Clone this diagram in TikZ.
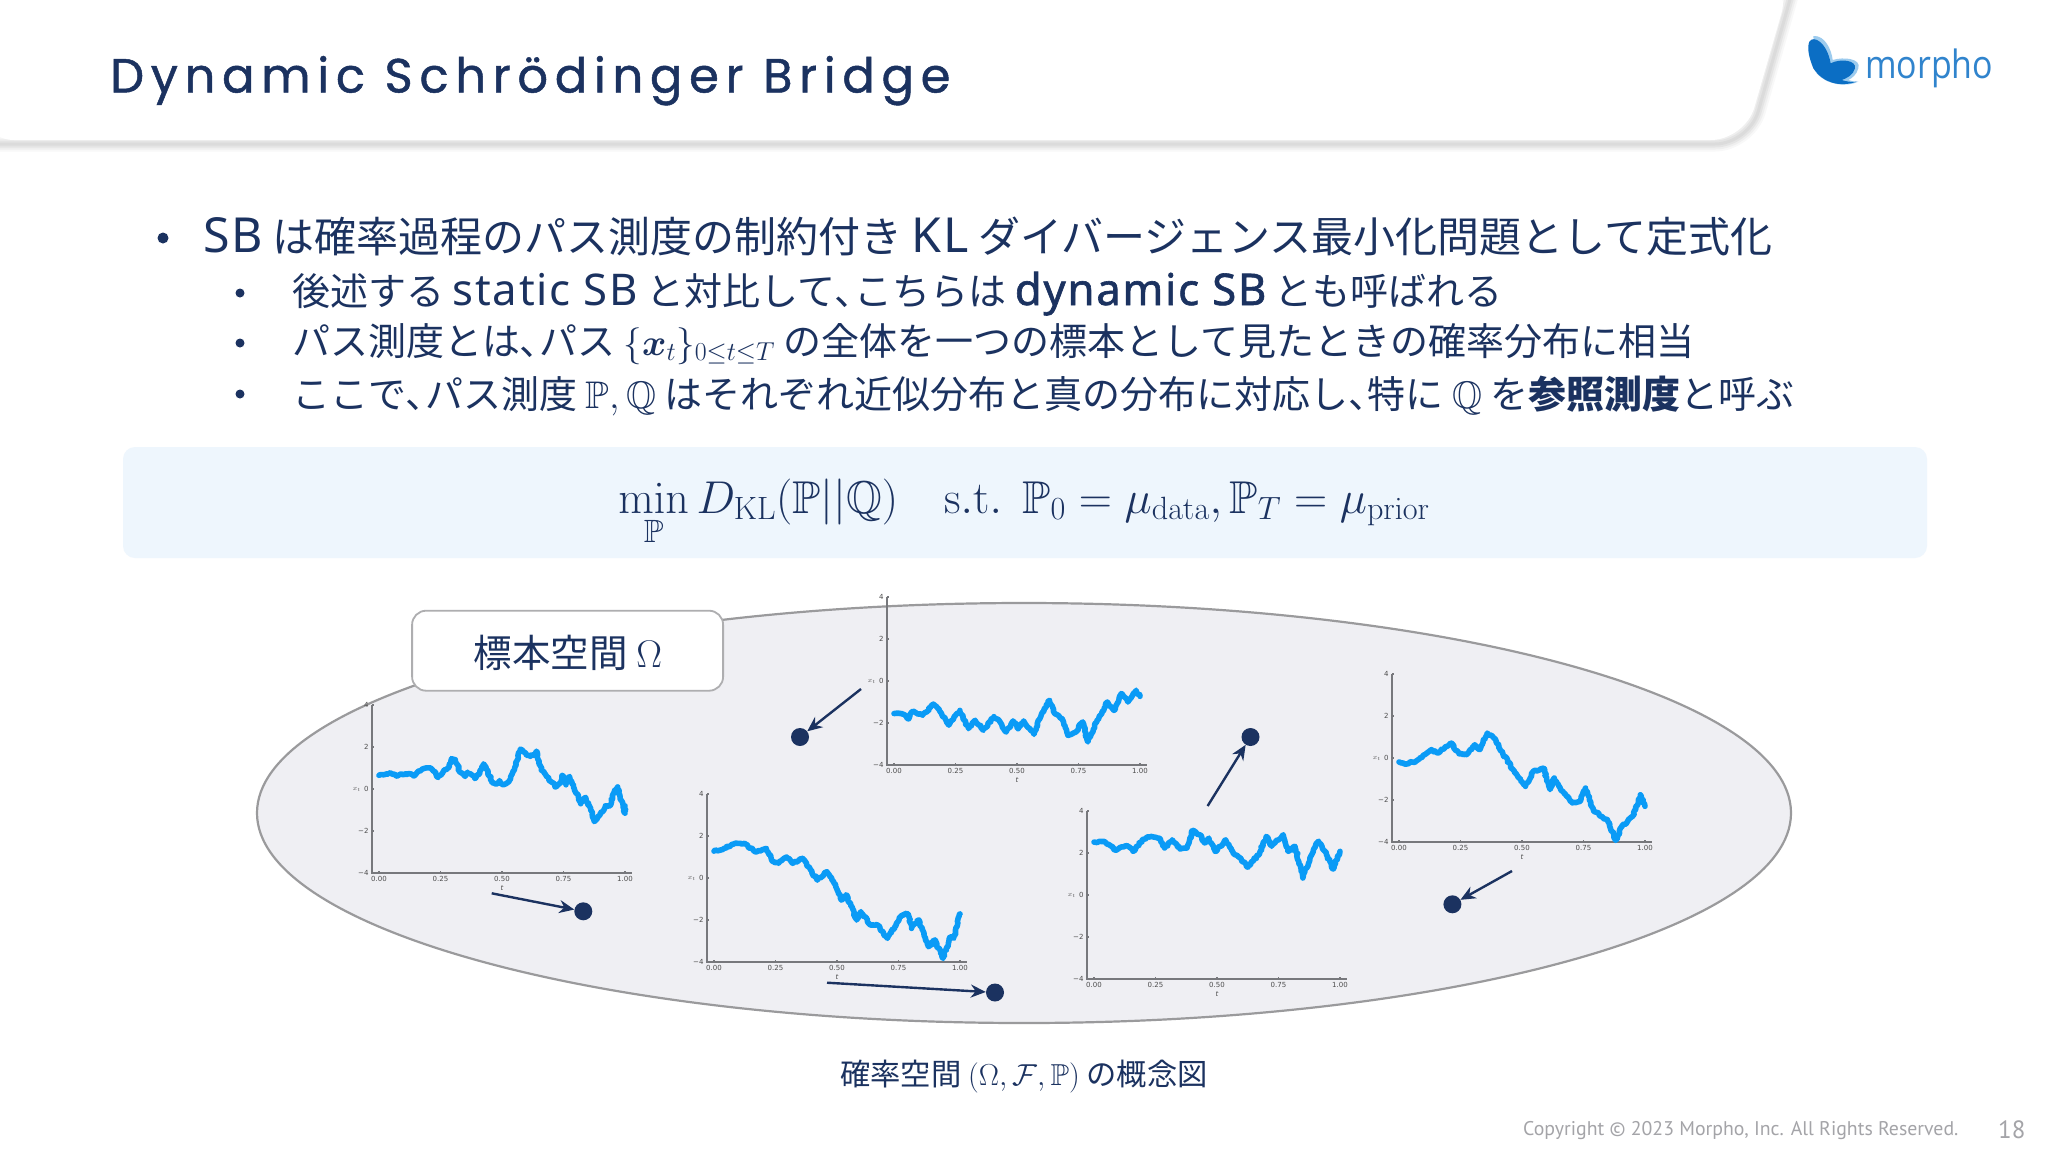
\documentclass[tikz,border=0pt]{standalone}
\usepackage{fix-cm}
\usepackage{amsmath,amssymb}
\usepackage[no-math]{fontspec}
\setmainfont{Noto Sans CJK JP}
\newfontfamily\paltfont[RawFeature=+palt]{Noto Sans CJK JP}
\newfontfamily\latinfont[Scale=1.15,LetterSpace=4]{Noto Sans}
\newfontfamily\latinbold[Scale=1.15,LetterSpace=4,FakeBold=1.4]{Noto Sans}
\newfontfamily\titlefont[LetterSpace=14,FakeBold=1]{Poppins}
\newfontfamily\logofont[FakeStretch=0.87]{Open Sans}
\newfontfamily\footfont{PT Sans}
\newfontfamily\tickfont{DejaVu Sans}
\newcommand{\tenmark}{{\paltfont 、}}
\newcommand{\lat}[1]{{\latinfont #1}}
\newcommand{\latb}[1]{{\latinbold #1}}
\usetikzlibrary{arrows.meta,shapes.geometric,positioning,calc,decorations.pathmorphing}
\definecolor{navy}{HTML}{1B3260}
\definecolor{pathblue}{HTML}{0A9BF6}
\definecolor{panelblue}{HTML}{EEF6FD}
\definecolor{spacegray}{HTML}{EFEFF3}
\definecolor{edgegray}{HTML}{9A9A9C}
\definecolor{axisgray}{HTML}{77787C}
\definecolor{footgray}{HTML}{A4A4A8}
\definecolor{logoblue}{HTML}{0B6EC4}
\definecolor{logolight}{HTML}{9CCBEE}
\pgfmathsetseed{18}

% one sample path with its axes: name, origin x, origin y, points
\newcommand{\pathplot}[4]{
	\begin{scope}[shift={(#2,#3)},x=246pt,y=21pt]
		\draw[axisline] (-0.0285,4) -- (-0.0285,-4) -- (1.0285,-4);
		\foreach \v/\lab [count=\i] in {-4/−4,-2/−2,0/0,2/2,4/4}{
			\draw[axisline] (-0.0285,\v) -- (-0.021,\v);
			\node[ticklabel,anchor=east] (#1y\i) at (-0.042,\v) {\lab};
		}
		\foreach \t/\lab [count=\i] in {0/0.00,0.25/0.25,0.5/0.50,0.75/0.75,1/1.00}{
			\draw[axisline] (\t,-4) -- (\t,-3.9);
			\node[ticklabel] (#1x\i) at (\t,-4.3) {\lab};
		}
		\node[ticklabel,font=\tickfont\fontsize{7}{8}\selectfont\itshape] (#1t) at (0.5,-4.72) {t};
		\node[ticklabel] (#1v) at (-0.09,0) {$x_t$};
		\draw[samplepath] plot coordinates {#4};
	\end{scope}
}

\begin{document}
\begin{tikzpicture}[
	x=1pt,y=-1pt,
	bodytext/.style={anchor=base west,inner sep=0,text=navy},
	bigline/.style={bodytext,font=\fontsize{42}{48}\selectfont},
	subline/.style={bodytext,font=\fontsize{38}{42}\selectfont},
	dotitem/.style={circle,fill=navy,inner sep=0,minimum size=#1},
	panel/.style={rectangle,rounded corners=12pt,fill=panelblue,inner sep=0,minimum width=1804pt,minimum height=111pt},
	space/.style={ellipse,draw=edgegray,line width=2.2pt,fill=spacegray,inner sep=0,minimum width=1534pt,minimum height=420pt},
	labelbox/.style={rectangle,rounded corners=14pt,draw=edgegray!80,line width=1.8pt,fill=white,inner sep=0,minimum width=311pt,minimum height=80pt},
	axisline/.style={axisgray,line width=1.1pt},
	ticklabel/.style={inner sep=0,text=black!70,font=\tickfont\fontsize{7}{8}\selectfont},
	samplepath/.style={pathblue,line width=5.6pt,line join=round,line cap=round,decorate,decoration={random steps,segment length=2pt,amplitude=1pt}},
	sampledot/.style={circle,fill=navy,inner sep=0,minimum size=18pt},
	samplearrow/.style={-{Stealth[length=15pt,width=13pt]},navy,line width=2.4pt},
	footnote/.style={anchor=base west,inner sep=0,text=footgray}
	]
	\useasboundingbox (0,0) rectangle (2048,1152);
	\fill[white] (0,0) rectangle (2048,1152);

	% header band
	\foreach \w/\o in {15/.06,11/.08,7/.10,3/.10}
		\draw[black!45,opacity=\o,line width=\w pt,rounded corners=34pt] (-20,144) -- (1749,144) -- (1791,-4);
	\fill[white,rounded corners=34pt] (-20,-20) -- (-20,140) -- (1745,140) -- (1791,-20) -- cycle;
	\node[anchor=base west,inner sep=0,text=navy,font=\titlefont\fontsize{48}{54}\selectfont] (title) at (110,92.5) {Dynamic Schrödinger Bridge};

	% logo
	\begin{scope}[shift={(1600,0)},x=.3333pt,y=-.3333pt]
		\fill[logolight] (640,108) .. controls (675,105) and (695,150) .. (698,180) .. controls (730,170) and (785,175) .. (775,205) .. controls (770,225) and (755,235) .. (745,240) .. controls (755,245) and (765,245) .. (775,245) .. controls (740,262) and (680,255) .. (650,220) -- cycle;
		\fill[logoblue] (628,125) .. controls (640,105) and (680,125) .. (692,190) .. controls (720,175) and (770,180) .. (765,205) .. controls (760,225) and (740,235) .. (725,240) .. controls (740,245) and (755,247) .. (770,245) .. controls (720,262) and (670,250) .. (640,205) .. controls (628,175) and (620,145) .. (628,125) -- cycle;
	\end{scope}
	\node[anchor=base west,inner sep=0,text=logoblue!85!white,font=\logofont\fontsize{39}{44}\selectfont] (logotext) at (1865,78) {morpho};

	% bullets
	\node[dotitem=11pt] (b1) at (163,238) {};
	\node[dotitem=9pt] (b2) at (240,293) {};
	\node[dotitem=9pt] (b3) at (240,343) {};
	\node[dotitem=9pt] (b4) at (240,394) {};
	\node[bigline] (line1) at (203,252) {\lat{SB} は確率過程のパス測度の制約付き \lat{KL} ダイバージェンス最小化問題として定式化};
	\node[subline] (line2) at (292,305) {後述する \lat{static SB} と対比して\tenmark こちらは \latb{dynamic SB} とも呼ばれる};
	\node[subline] (line3) at (292,355) {パス測度とは\tenmark パス {\fontsize{37}{42}\selectfont$\{\boldsymbol{x}_t\}_{0\le t\le T}$} の全体を一つの標本として見たときの確率分布に相当};
	\node[subline] (line4) at (292,408) {ここで\tenmark パス測度 {\fontsize{38.5}{42}\selectfont$\mathbb{P},\mathbb{Q}$} はそれぞれ近似分布と真の分布に対応し\tenmark 特に {\fontsize{38.5}{42}\selectfont$\mathbb{Q}$} を\textbf{参照測度}と呼ぶ};

	% formula
	\node[panel] (formula) at (1025,502.5) {};
	\node[anchor=base,inner sep=0,text=navy,font=\fontsize{46}{50}\selectfont] (formulatext) at (1024,513) {$\displaystyle\min_{\mathbb{P}} D_{\mathrm{KL}}(\mathbb{P}||\mathbb{Q})\quad\mathrm{s.t.}\ \ \mathbb{P}_0=\mu_{\mathrm{data}},\mathbb{P}_T=\mu_{\mathrm{prior}}$};

	% sample space
	\node[space] (omega) at (1024,813) {};
	\node[labelbox] (omegalabel) at (567.6,650.7) {};
	\node[inner sep=0,text=navy,font=\fontsize{38.5}{44}\selectfont] (omegatext) at (568,653) {標本空間 $\Omega$};

	\pathplot{pa}{379}{789}{(0,0.65)(0.02,0.68)(0.05,0.75)(0.07,0.62)(0.09,0.72)(0.13,0.72)(0.14,0.62)(0.16,0.85)(0.19,1.0)(0.21,1.0)(0.23,0.8)(0.24,0.55)(0.26,0.8)(0.28,1.0)(0.295,1.45)(0.31,1.4)(0.33,0.8)(0.35,0.6)(0.36,0.8)(0.38,0.65)(0.39,0.5)(0.41,0.8)(0.425,1.2)(0.44,0.9)(0.46,0.3)(0.48,0.25)(0.49,0.4)(0.505,0.2)(0.53,0.4)(0.55,0.9)(0.575,1.9)(0.60,1.6)(0.63,1.6)(0.64,1.8)(0.66,0.9)(0.69,0.5)(0.72,0.1)(0.74,0.3)(0.745,0.65)(0.76,0.2)(0.775,0.6)(0.79,0.1)(0.81,-0.3)(0.82,-0.7)(0.84,-0.4)(0.855,-0.8)(0.875,-1.55)(0.90,-1.2)(0.92,-0.8)(0.94,-0.8)(0.955,-0.1)(0.97,0.1)(0.98,-0.4)(1,-1.15)(1,-0.8)}
	\pathplot{pb}{894}{681}{(0,-1.55)(0.03,-1.55)(0.06,-1.8)(0.077,-1.43)(0.116,-1.63)(0.16,-1.1)(0.19,-1.5)(0.223,-2.1)(0.268,-1.4)(0.303,-2.27)(0.33,-1.87)(0.363,-2.35)(0.406,-1.7)(0.431,-1.95)(0.456,-2.43)(0.484,-1.9)(0.505,-2.27)(0.527,-1.9)(0.569,-2.54)(0.60,-1.56)(0.633,-0.92)(0.654,-1.56)(0.686,-1.87)(0.707,-2.59)(0.739,-2.43)(0.767,-1.95)(0.788,-2.9)(0.824,-1.95)(0.867,-1)(0.894,-1.4)(0.924,-0.6)(0.951,-1)(0.984,-0.44)(1,-0.73)}
	\pathplot{pc}{714}{878}{(0,1.28)(0.026,1.33)(0.085,1.65)(0.124,1.65)(0.167,1.25)(0.213,1.41)(0.242,0.78)(0.262,0.7)(0.295,1.0)(0.32,0.7)(0.36,0.94)(0.42,-0.1)(0.459,0.3)(0.488,-0.25)(0.518,-1.05)(0.537,-0.8)(0.58,-2)(0.597,-1.6)(0.636,-2.24)(0.665,-2.24)(0.705,-2.87)(0.764,-1.76)(0.789,-1.71)(0.803,-2.4)(0.833,-2)(0.872,-3.27)(0.898,-2.95)(0.931,-3.83)(0.96,-2.8)(0.975,-2.87)(1,-1.71)}
	\pathplot{pd}{1094}{895}{(0,2.52)(0.042,2.55)(0.089,2.13)(0.134,2.35)(0.159,2.08)(0.202,2.67)(0.234,2.79)(0.265,2.71)(0.287,2.24)(0.318,2.63)(0.35,2.19)(0.378,2.24)(0.4,3.08)(0.429,2.87)(0.45,2.48)(0.467,2.71)(0.493,2.08)(0.514,2.32)(0.535,2.63)(0.563,2.08)(0.626,1.33)(0.673,2)(0.70,2.79)(0.722,2.32)(0.769,2.87)(0.79,2.08)(0.817,2.32)(0.849,0.81)(0.892,2.16)(0.913,2.56)(0.945,1.92)(0.972,1.24)(1,2.08)}
	\pathplot{pe}{1399}{758}{(0,-0.19)(0.02,-0.27)(0.068,-0.16)(0.132,0.4)(0.159,0.24)(0.21,0.71)(0.244,0.2)(0.274,0.16)(0.308,0.63)(0.329,0.4)(0.359,1.19)(0.386,0.95)(0.429,0.08)(0.471,-0.71)(0.514,-1.35)(0.546,-0.63)(0.588,-0.48)(0.614,-1.5)(0.631,-0.95)(0.669,-1.67)(0.705,-2.14)(0.737,-2.06)(0.758,-1.43)(0.79,-2.46)(0.822,-2.78)(0.847,-2.94)(0.881,-3.92)(0.907,-3.25)(0.949,-2.78)(0.981,-1.75)(1,-2.3)}

	% points of the sample space
	\node[sampledot] (dota) at (583.3,911.3) {};
	\node[sampledot] (dotb) at (800,737) {};
	\node[sampledot] (dotc) at (995,992.5) {};
	\node[sampledot] (dotd) at (1250.5,737) {};
	\node[sampledot] (dote) at (1452.4,904.3) {};
	\coordinate (taila) at (491.7,893.3);
	\coordinate (tailb) at (861,689);
	\coordinate (tailc) at (827,982.7);
	\coordinate (taild) at (1207.6,806);
	\coordinate (taile) at (1512,871);
	\foreach \p in {a,b,c,d,e}
		\draw[samplearrow] (tail\p) -- (dot\p);

	% caption and footer
	\node[bodytext,font=\fontsize{30.3}{36}\selectfont] (caption) at (840,1085) {確率空間 $(\Omega,\mathcal{F},\mathbb{P})$ の概念図};
	\node[footnote,font=\footfont\fontsize{19.8}{22}\selectfont] (copyright) at (1523,1135) {Copyright © 2023 Morpho, Inc. All Rights Reserved.};
	\node[footnote,font=\footfont\fontsize{25}{28}\selectfont] (pagenum) at (1998,1138) {18};
\end{tikzpicture}
\end{document}
